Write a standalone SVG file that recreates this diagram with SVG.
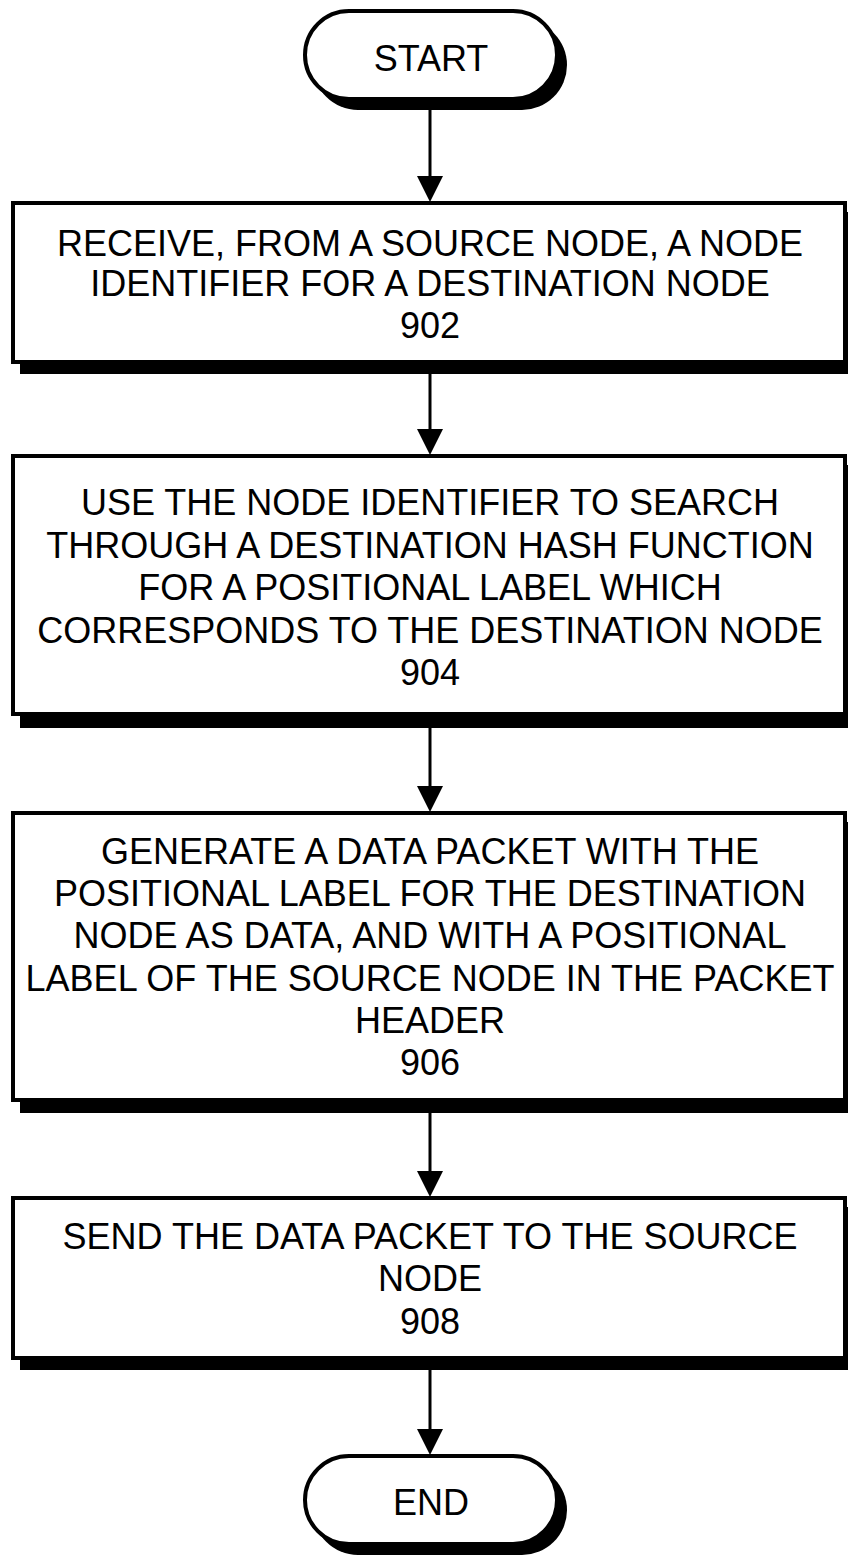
<svg xmlns="http://www.w3.org/2000/svg" width="848" height="1557" viewBox="0 0 848 1557">
  <style>
    .shadow { fill: #000; }
    .box { fill: #fff; stroke: #000; stroke-width: 4; }
    .label { font-family: "Liberation Sans", Arial, sans-serif; font-size: 36px; fill: #000; text-anchor: middle; }
    .flow { stroke: #000; stroke-width: 3; fill: none; }
    .head { fill: #000; }
  </style>

  <!-- connectors: vertical flow lines with solid arrowheads -->
  <g id="connectors">
    <path class="flow" d="M430,110 V190"/>
    <path class="flow" d="M430,374 V443"/>
    <path class="flow" d="M430,727 V800"/>
    <path class="flow" d="M430,1113 V1185"/>
    <path class="flow" d="M430,1370 V1443"/>
    <path class="head" d="M417,176 L443,176 L430,202 Z"/>
    <path class="head" d="M417,429 L443,429 L430,455 Z"/>
    <path class="head" d="M417,786 L443,786 L430,812 Z"/>
    <path class="head" d="M417,1171 L443,1171 L430,1197 Z"/>
    <path class="head" d="M417,1429 L443,1429 L430,1455 Z"/>
  </g>

  <!-- start terminal -->
  <g id="start">
    <rect class="shadow" x="313" y="20" width="254" height="90" rx="45"/>
    <rect class="box" x="305" y="11" width="252" height="88" rx="44"/>
    <text class="label" x="431" y="71">START</text>
  </g>

  <!-- step 902 -->
  <g id="step902">
    <rect class="shadow" x="20" y="212" width="836" height="162"/>
    <rect class="box" x="13" y="203" width="832" height="159"/>
    <text class="label" x="430" y="256">RECEIVE, FROM A SOURCE NODE, A NODE</text>
    <text class="label" x="430" y="296">IDENTIFIER FOR A DESTINATION NODE</text>
    <text class="label" x="430" y="338">902</text>
  </g>

  <!-- step 904 -->
  <g id="step904">
    <rect class="shadow" x="20" y="465" width="836" height="263"/>
    <rect class="box" x="13" y="456" width="832" height="258"/>
    <text class="label" x="430" y="515">USE THE NODE IDENTIFIER TO SEARCH</text>
    <text class="label" x="430" y="558">THROUGH A DESTINATION HASH FUNCTION</text>
    <text class="label" x="430" y="600">FOR A POSITIONAL LABEL WHICH</text>
    <text class="label" x="430" y="643">CORRESPONDS TO THE DESTINATION NODE</text>
    <text class="label" x="430" y="685">904</text>
  </g>

  <!-- step 906 -->
  <g id="step906">
    <rect class="shadow" x="20" y="822" width="836" height="291"/>
    <rect class="box" x="13" y="813" width="832" height="287"/>
    <text class="label" x="430" y="864">GENERATE A DATA PACKET WITH THE</text>
    <text class="label" x="430" y="906">POSITIONAL LABEL FOR THE DESTINATION</text>
    <text class="label" x="430" y="948">NODE AS DATA, AND WITH A POSITIONAL</text>
    <text class="label" x="430" y="991">LABEL OF THE SOURCE NODE IN THE PACKET</text>
    <text class="label" x="430" y="1033">HEADER</text>
    <text class="label" x="430" y="1075">906</text>
  </g>

  <!-- step 908 -->
  <g id="step908">
    <rect class="shadow" x="20" y="1207" width="836" height="163"/>
    <rect class="box" x="13" y="1198" width="832" height="160"/>
    <text class="label" x="430" y="1249">SEND THE DATA PACKET TO THE SOURCE</text>
    <text class="label" x="430" y="1291">NODE</text>
    <text class="label" x="430" y="1334">908</text>
  </g>

  <!-- end terminal -->
  <g id="end">
    <rect class="shadow" x="313" y="1465" width="254" height="90" rx="45"/>
    <rect class="box" x="305" y="1456" width="252" height="88" rx="44"/>
    <text class="label" x="431" y="1515">END</text>
  </g>
</svg>
